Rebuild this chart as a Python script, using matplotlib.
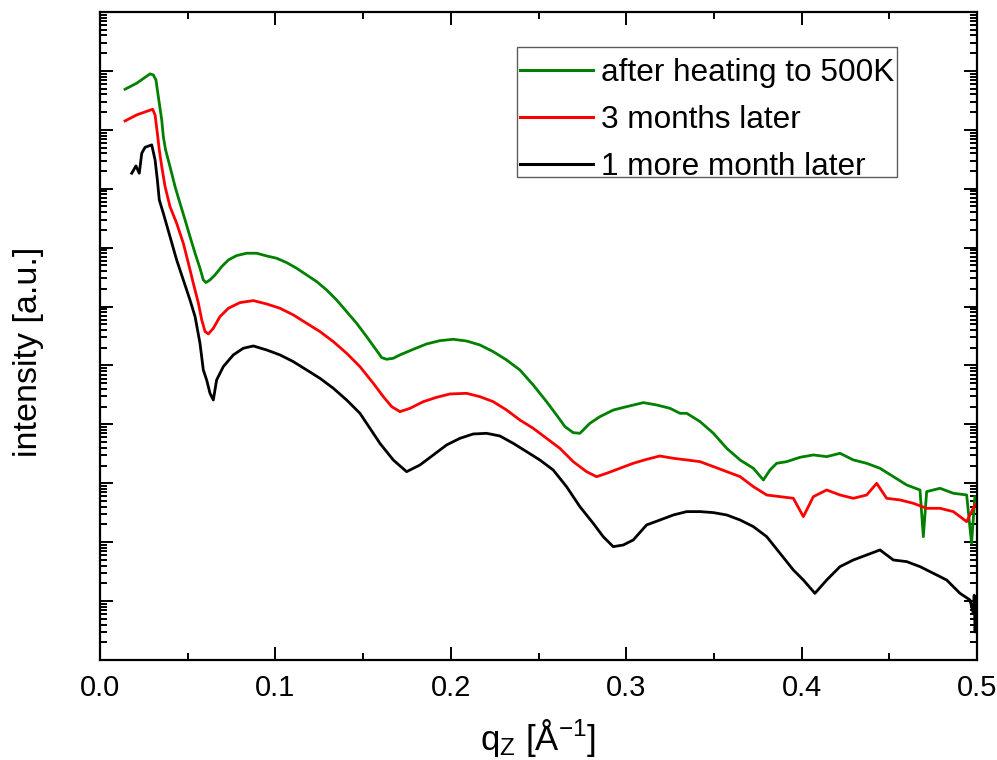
import numpy as np
import matplotlib
matplotlib.use("Agg")
import matplotlib.pyplot as plt
from matplotlib.ticker import LogLocator, MultipleLocator, NullFormatter
from matplotlib.transforms import ScaledTranslation

plt.rcParams['font.family'] = ['Liberation Sans', 'DejaVu Sans']
plt.rcParams['mathtext.default'] = 'regular'

# Reflectivity curves: scattering vector q_z [1/Å] and log10 of intensity [a.u.]
q_heated = [0.0143, 0.0209, 0.0285, 0.0304, 0.0319, 0.0327, 0.0338, 0.0352, 0.0361, 0.0374,
            0.0399, 0.0428, 0.0456, 0.0485, 0.0513, 0.0542, 0.0570, 0.0589, 0.0604, 0.0627,
            0.0656, 0.0694, 0.0732, 0.0779, 0.0836, 0.0893, 0.0950, 0.1007, 0.1064, 0.1121,
            0.1178, 0.1235, 0.1292, 0.1349, 0.1406, 0.1463, 0.1520, 0.1568, 0.1606, 0.1634,
            0.1672, 0.1710, 0.1786, 0.1862, 0.1938, 0.2014, 0.2090, 0.2166, 0.2242, 0.2318,
            0.2394, 0.2470, 0.2546, 0.2603, 0.2651, 0.2698, 0.2736, 0.2793, 0.2850, 0.2927,
            0.3003, 0.3098, 0.3174, 0.3250, 0.3307, 0.3345, 0.3421, 0.3497, 0.3573, 0.3649,
            0.3725, 0.3782, 0.3820, 0.3858, 0.3915, 0.3991, 0.4067, 0.4143, 0.4219, 0.4295,
            0.4371, 0.4447, 0.4523, 0.4599, 0.4675, 0.4694, 0.4713, 0.4789, 0.4865, 0.4941,
            0.4969, 0.4988]
logI_heated = [9.689, 9.791, 9.949, 9.932, 9.847, 9.678, 9.451, 9.168, 8.885, 8.659,
               8.376, 8.036, 7.754, 7.471, 7.188, 6.905, 6.650, 6.452, 6.407, 6.452,
               6.537, 6.678, 6.791, 6.865, 6.905, 6.905, 6.859, 6.820, 6.746, 6.650,
               6.537, 6.424, 6.282, 6.112, 5.914, 5.716, 5.490, 5.292, 5.133, 5.105,
               5.122, 5.179, 5.274, 5.365, 5.421, 5.444, 5.415, 5.348, 5.234, 5.093,
               4.923, 4.668, 4.385, 4.159, 3.961, 3.859, 3.848, 4.018, 4.131, 4.244,
               4.301, 4.369, 4.329, 4.272, 4.187, 4.188, 4.047, 3.849, 3.594, 3.396,
               3.254, 3.056, 3.226, 3.339, 3.367, 3.441, 3.481, 3.452, 3.509, 3.396,
               3.339, 3.254, 3.113, 2.971, 2.886, 2.094, 2.858, 2.915, 2.830, 2.802,
               1.981, 2.773]

q_3months = [0.0143, 0.0209, 0.0300, 0.0314, 0.0327, 0.0338, 0.0352, 0.0371, 0.0399, 0.0437,
             0.0475, 0.0504, 0.0532, 0.0561, 0.0580, 0.0599, 0.0618, 0.0646, 0.0684, 0.0732,
             0.0798, 0.0874, 0.0950, 0.1026, 0.1102, 0.1178, 0.1254, 0.1330, 0.1406, 0.1482,
             0.1558, 0.1615, 0.1663, 0.1710, 0.1767, 0.1843, 0.1919, 0.1995, 0.2090, 0.2166,
             0.2242, 0.2318, 0.2394, 0.2470, 0.2546, 0.2622, 0.2698, 0.2774, 0.2831, 0.2888,
             0.2964, 0.3040, 0.3116, 0.3192, 0.3269, 0.3345, 0.3421, 0.3497, 0.3573, 0.3649,
             0.3725, 0.3801, 0.3877, 0.3953, 0.4010, 0.4067, 0.4143, 0.4219, 0.4295, 0.4371,
             0.4428, 0.4485, 0.4561, 0.4637, 0.4713, 0.4789, 0.4865, 0.4941, 0.4988]
logI_3months = [9.151, 9.253, 9.349, 9.253, 8.942, 8.659, 8.376, 8.036, 7.697, 7.414,
                7.074, 6.735, 6.395, 6.056, 5.773, 5.575, 5.535, 5.631, 5.829, 5.971,
                6.067, 6.101, 6.044, 5.971, 5.858, 5.716, 5.575, 5.405, 5.207, 4.980,
                4.698, 4.471, 4.301, 4.216, 4.272, 4.385, 4.459, 4.516, 4.527, 4.470,
                4.385, 4.244, 4.074, 3.933, 3.763, 3.593, 3.367, 3.197, 3.112, 3.169,
                3.254, 3.339, 3.406, 3.463, 3.424, 3.396, 3.367, 3.283, 3.198, 3.113,
                2.943, 2.801, 2.773, 2.745, 2.434, 2.773, 2.886, 2.801, 2.745, 2.801,
                2.999, 2.745, 2.717, 2.660, 2.575, 2.575, 2.519, 2.349, 2.632]

q_4months = [0.0181, 0.0205, 0.0224, 0.0238, 0.0257, 0.0295, 0.0314, 0.0327, 0.0338, 0.0361,
             0.0399, 0.0437, 0.0475, 0.0513, 0.0542, 0.0570, 0.0589, 0.0608, 0.0627, 0.0646,
             0.0665, 0.0703, 0.0760, 0.0817, 0.0874, 0.0950, 0.1026, 0.1102, 0.1178, 0.1254,
             0.1330, 0.1406, 0.1482, 0.1596, 0.1672, 0.1748, 0.1824, 0.1900, 0.1976, 0.2052,
             0.2128, 0.2204, 0.2280, 0.2356, 0.2432, 0.2508, 0.2584, 0.2660, 0.2736, 0.2812,
             0.2869, 0.2926, 0.2983, 0.3040, 0.3116, 0.3192, 0.3269, 0.3345, 0.3421, 0.3497,
             0.3573, 0.3649, 0.3725, 0.3801, 0.3877, 0.3953, 0.4010, 0.4076, 0.4143, 0.4219,
             0.4295, 0.4371, 0.4447, 0.4523, 0.4599, 0.4675, 0.4751, 0.4827, 0.4903, 0.4960,
             0.4979, 0.4984, 0.4989, 0.4996]
logI_4months = [8.263, 8.387, 8.263, 8.602, 8.704, 8.744, 8.489, 8.150, 7.810, 7.584,
                7.188, 6.791, 6.452, 6.112, 5.829, 5.377, 4.924, 4.754, 4.528, 4.414,
                4.754, 4.980, 5.179, 5.292, 5.331, 5.263, 5.179, 5.065, 4.924, 4.782,
                4.613, 4.414, 4.188, 3.678, 3.395, 3.197, 3.310, 3.480, 3.650, 3.763,
                3.837, 3.848, 3.803, 3.678, 3.537, 3.395, 3.225, 2.942, 2.603, 2.320,
                2.093, 1.924, 1.952, 2.037, 2.292, 2.376, 2.462, 2.519, 2.519, 2.502,
                2.462, 2.377, 2.264, 2.094, 1.811, 1.528, 1.358, 1.132, 1.358, 1.585,
                1.698, 1.783, 1.868, 1.698, 1.670, 1.585, 1.472, 1.358, 1.132, 1.019,
                0.793, 1.100, 0.475, 1.000]

labels = ["after heating to 500K", "3 months later", "1 more month later"]
colors = ["#008000", "#ff0000", "#000000"]

fig = plt.figure(figsize=(9.97, 7.60), dpi=100)
ax = fig.add_axes([100 / 997, 1 - 660 / 760, 877 / 997, 648 / 760])

series = [(q_heated, logI_heated), (q_3months, logI_3months), (q_4months, logI_4months)]
for (q, logI), lab, col in zip(series, labels, colors):
    ax.plot(q, 10.0 ** np.asarray(logI), color=col, lw=2.0, label=lab)

ax.set_yscale('log')
ax.set_xlim(0.0, 0.5)
ax.set_ylim(1e0, 1e11)

ax.xaxis.set_major_locator(MultipleLocator(0.1))
ax.xaxis.set_minor_locator(MultipleLocator(0.05))
ax.yaxis.set_major_locator(LogLocator(base=10, numticks=20))
ax.yaxis.set_minor_locator(LogLocator(base=10, subs=np.arange(2, 10), numticks=20))
ax.yaxis.set_major_formatter(NullFormatter())
ax.yaxis.set_minor_formatter(NullFormatter())
ax.xaxis.set_major_formatter(plt.FuncFormatter(lambda v, p: f"{v:.1f}"))

ax.tick_params(which='both', direction='in', top=True, right=True, width=1.4)
ax.tick_params(which='major', length=9.5, labelsize=21, pad=10)
ax.tick_params(which='minor', length=5)
for s in ax.spines.values():
    s.set_linewidth(1.6)

ax.set_xlabel('q$_Z$ [Å$^{-1}$]', fontsize=25, labelpad=11)
ax.set_ylabel('intensity [a.u.]', fontsize=24.5)
ax.yaxis.set_label_coords(-0.064, 0.475)

leg = ax.legend(loc='upper left', bbox_to_anchor=(517 / 997, 1 - 47 / 760),
                bbox_transform=fig.transFigure, fontsize=22.7, frameon=True,
                fancybox=False, handlelength=2.3, handletextpad=0.25,
                labelspacing=0.54, borderpad=0.1, borderaxespad=0)
leg.get_frame().set_edgecolor('#333333')
leg.get_frame().set_linewidth(1.0)

# entries sit slightly low inside the frame
shift = ScaledTranslation(0, -8 / 100, fig.dpi_scale_trans)
for line in leg.get_lines():
    line.set_linewidth(2.2)
    line.set_transform(line.get_transform() + shift)
for txt in leg.get_texts():
    txt.set_transform(txt.get_transform() + shift)

fig.savefig('out.png', dpi=100)
